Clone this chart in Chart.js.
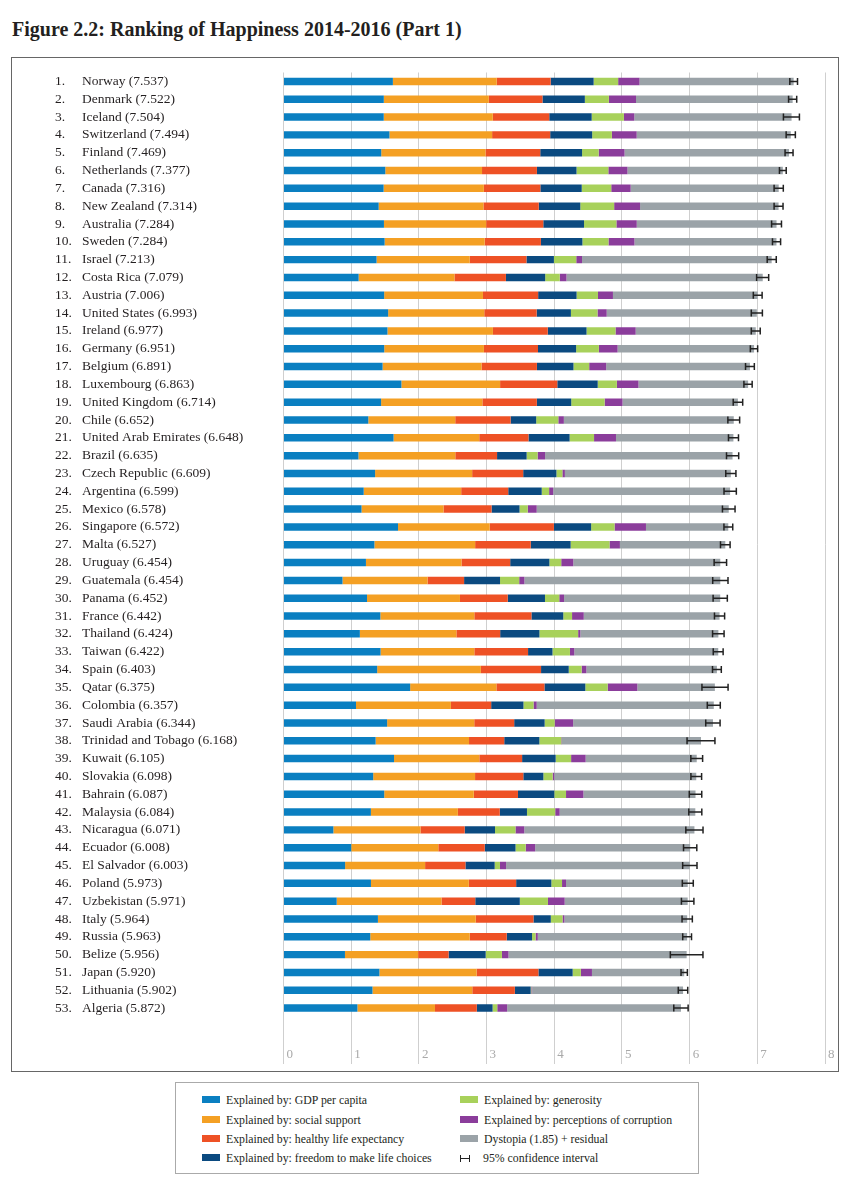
<!DOCTYPE html>
<html>
<head>
<meta charset="utf-8">
<title>Ranking of Happiness 2014-2016 (Part 1)</title>
<script src="https://cdn.jsdelivr.net/npm/chart.js@4.4.1/dist/chart.umd.min.js"></script>
<style>
  body { margin: 0; background: #fff; width: 850px; height: 1200px; position: relative;
         font-family: "Liberation Serif", "DejaVu Serif", serif; color: #231f20; }
  #title { position: absolute; left: 12px; top: 18px; margin: 0; font-size: 20px; font-weight: bold; white-space: nowrap; }
  #frame { position: absolute; left: 11px; top: 57px; width: 826px; height: 1013px; border: 1px solid #666; }
  #chartBox { position: absolute; left: 0; top: 0; width: 826px; height: 1013px; }
  #legend { position: absolute; left: 175px; top: 1082px; width: 522px; height: 90px; border: 1px solid #aaa; }
  .item { position: absolute; font-size: 11.8px; line-height: 14px; white-space: nowrap; }
  .sw { display: inline-block; width: 18px; height: 7px; margin-right: 6px; vertical-align: 1px; }
  .ci { display: inline-block; position: relative; width: 8px; height: 7px; margin: 0 13px 0 0; vertical-align: 0px;
        border-left: 1.5px solid #222; border-right: 1.5px solid #222; }
  .ci:after { content: ""; position: absolute; left: 0; right: 0; top: 3px; height: 1.5px; background: #222; }
</style>
</head>
<body>
<h1 id="title">Figure 2.2: Ranking of Happiness 2014-2016 (Part 1)</h1>
<div id="frame"><div id="chartBox"><canvas id="happyChart"></canvas></div></div>
<div id="legend"></div>

<script>
// ---- data ----
const countries = ["Norway", "Denmark", "Iceland", "Switzerland", "Finland", "Netherlands", "Canada",
   "New Zealand", "Australia", "Sweden", "Israel", "Costa Rica", "Austria", "United States", "Ireland",
   "Germany", "Belgium", "Luxembourg", "United Kingdom", "Chile", "United Arab Emirates", "Brazil",
   "Czech Republic", "Argentina", "Mexico", "Singapore", "Malta", "Uruguay", "Guatemala", "Panama",
   "France", "Thailand", "Taiwan", "Spain", "Qatar", "Colombia", "Saudi Arabia", "Trinidad and Tobago",
   "Kuwait", "Slovakia", "Bahrain", "Malaysia", "Nicaragua", "Ecuador", "El Salvador", "Poland",
   "Uzbekistan", "Italy", "Russia", "Belize", "Japan", "Lithuania", "Algeria"];

const scores = [7.537, 7.522, 7.504, 7.494, 7.469, 7.377, 7.316, 7.314, 7.284, 7.284, 7.213, 7.079, 7.006,
   6.993, 6.977, 6.951, 6.891, 6.863, 6.714, 6.652, 6.648, 6.635, 6.609, 6.599, 6.578, 6.572, 6.527,
   6.454, 6.454, 6.452, 6.442, 6.424, 6.422, 6.403, 6.375, 6.357, 6.344, 6.168, 6.105, 6.098, 6.087,
   6.084, 6.071, 6.008, 6.003, 5.973, 5.971, 5.964, 5.963, 5.956, 5.920, 5.902, 5.872];

const gdp = [1.616, 1.482, 1.481, 1.565, 1.444, 1.504, 1.479, 1.406, 1.484, 1.494, 1.375, 1.110, 1.487,
   1.546, 1.536, 1.488, 1.464, 1.742, 1.442, 1.253, 1.626, 1.107, 1.353, 1.185, 1.153, 1.692, 1.343,
   1.218, 0.872, 1.234, 1.431, 1.128, 1.434, 1.384, 1.871, 1.071, 1.531, 1.361, 1.633, 1.325, 1.488,
   1.291, 0.737, 1.001, 0.910, 1.292, 0.786, 1.395, 1.282, 0.908, 1.417, 1.315, 1.092];

const social = [1.534, 1.551, 1.611, 1.517, 1.540, 1.429, 1.481, 1.548, 1.510, 1.478, 1.376, 1.416, 1.460,
   1.420, 1.558, 1.473, 1.462, 1.458, 1.496, 1.284, 1.266, 1.431, 1.434, 1.440, 1.211, 1.354, 1.488,
   1.412, 1.256, 1.373, 1.388, 1.426, 1.385, 1.532, 1.274, 1.402, 1.287, 1.380, 1.260, 1.505, 1.323,
   1.285, 1.287, 1.286, 1.182, 1.446, 1.549, 1.445, 1.469, 1.081, 1.436, 1.474, 1.146];

const health = [0.797, 0.793, 0.834, 0.858, 0.809, 0.811, 0.835, 0.817, 0.844, 0.831, 0.838, 0.760, 0.815,
   0.774, 0.810, 0.799, 0.818, 0.845, 0.805, 0.819, 0.727, 0.617, 0.754, 0.695, 0.710, 0.949, 0.822,
   0.719, 0.540, 0.706, 0.844, 0.647, 0.794, 0.889, 0.710, 0.595, 0.590, 0.520, 0.632, 0.713, 0.653,
   0.619, 0.653, 0.686, 0.596, 0.699, 0.498, 0.853, 0.547, 0.450, 0.913, 0.629, 0.618];

const freedom = [0.635, 0.626, 0.627, 0.620, 0.618, 0.585, 0.611, 0.614, 0.602, 0.613, 0.406, 0.580, 0.568,
   0.506, 0.573, 0.563, 0.540, 0.597, 0.508, 0.377, 0.608, 0.437, 0.491, 0.495, 0.413, 0.550, 0.589,
   0.579, 0.531, 0.550, 0.470, 0.580, 0.361, 0.409, 0.604, 0.477, 0.450, 0.519, 0.496, 0.296, 0.537,
   0.402, 0.448, 0.455, 0.432, 0.520, 0.658, 0.256, 0.374, 0.548, 0.506, 0.234, 0.233];

const generosity = [0.362, 0.355, 0.476, 0.291, 0.245, 0.470, 0.436, 0.500, 0.478, 0.385, 0.330, 0.215, 0.316,
   0.393, 0.428, 0.336, 0.232, 0.283, 0.493, 0.327, 0.361, 0.162, 0.088, 0.109, 0.121, 0.346, 0.575,
   0.175, 0.283, 0.211, 0.130, 0.572, 0.258, 0.190, 0.330, 0.149, 0.148, 0.325, 0.228, 0.137, 0.173,
   0.417, 0.302, 0.150, 0.078, 0.158, 0.416, 0.173, 0.052, 0.240, 0.121, 0.010, 0.069];

const corruption = [0.316, 0.401, 0.154, 0.367, 0.383, 0.283, 0.287, 0.383, 0.301, 0.384, 0.085, 0.100, 0.221,
   0.136, 0.298, 0.277, 0.251, 0.319, 0.265, 0.082, 0.324, 0.111, 0.037, 0.060, 0.133, 0.464, 0.153,
   0.178, 0.077, 0.071, 0.173, 0.032, 0.064, 0.071, 0.439, 0.047, 0.273, 0.009, 0.215, 0.024, 0.257,
   0.066, 0.130, 0.140, 0.090, 0.059, 0.247, 0.028, 0.033, 0.097, 0.164, 0.012, 0.146];

const dystopia = [2.277, 2.314, 2.323, 2.277, 2.430, 2.295, 2.187, 2.046, 2.065, 2.098, 2.802, 2.899, 2.139,
   2.218, 1.774, 2.016, 2.124, 1.620, 1.704, 2.510, 1.735, 2.769, 2.452, 2.614, 2.837, 1.216, 1.557,
   2.172, 2.894, 2.307, 2.006, 2.040, 2.127, 1.928, 1.145, 2.616, 2.066, 2.054, 1.641, 2.098, 1.656,
   2.004, 2.514, 2.290, 2.715, 1.798, 1.817, 1.814, 2.206, 2.632, 1.363, 2.229, 2.568];

// 95% confidence interval
const ciLow = [7.480, 7.462, 7.386, 7.426, 7.410, 7.327, 7.248, 7.248, 7.211, 7.224, 7.146, 6.990, 6.941,
   6.911, 6.911, 6.897, 6.826, 6.802, 6.644, 6.565, 6.574, 6.545, 6.534, 6.508, 6.485, 6.507, 6.456,
   6.362, 6.341, 6.347, 6.367, 6.339, 6.349, 6.338, 6.182, 6.261, 6.238, 5.962, 6.018, 6.019, 5.995,
   5.988, 5.944, 5.910, 5.897, 5.892, 5.879, 5.888, 5.898, 5.715, 5.873, 5.832, 5.766];

const ciHigh = [7.594, 7.582, 7.622, 7.562, 7.528, 7.427, 7.384, 7.380, 7.357, 7.344, 7.280, 7.168, 7.071,
   7.075, 7.043, 7.005, 6.956, 6.924, 6.784, 6.739, 6.722, 6.725, 6.684, 6.690, 6.671, 6.637, 6.598,
   6.546, 6.567, 6.557, 6.517, 6.509, 6.495, 6.468, 6.568, 6.453, 6.450, 6.374, 6.192, 6.177, 6.179,
   6.180, 6.198, 6.106, 6.109, 6.054, 6.063, 6.040, 6.028, 6.197, 5.967, 5.972, 5.978];

const xTicks = [0, 1, 2, 3, 4, 5, 6, 7, 8];

const seriesNames = ["Explained by: GDP per capita", "Explained by: social support",
   "Explained by: healthy life expectancy", "Explained by: freedom to make life choices",
   "Explained by: generosity", "Explained by: perceptions of corruption", "Dystopia (1.85) + residual"];
const seriesColors = ["#0a7fc1", "#f4a024", "#ee5125", "#0b4a80", "#a8d15b", "#8b3d9b", "#9ba3a8"];
const seriesData = [gdp, social, health, freedom, generosity, corruption, dystopia];

// ---- labels ----
const names = countries.map(function (c, i) {
   return c + " (" + scores[i].toFixed(3) + ")";
});
const ranks = countries.map(function (c, i) {
   return (i + 1) + ".";
});

const labelFont = { family: "'Liberation Serif', serif", size: 13.5 };

// error bars for the confidence interval
const ciPlugin = {
   id: "ciBars",
   afterDatasetsDraw(chart) {
      const ctx = chart.ctx;
      const x = chart.scales.x;
      const y = chart.scales.y;
      ctx.save();
      ctx.strokeStyle = "#222";
      ctx.lineWidth = 1.5;
      for (let i = 0; i < countries.length; i++) {
         const py = y.getPixelForValue(i);
         const x1 = x.getPixelForValue(ciLow[i]);
         const x2 = x.getPixelForValue(ciHigh[i]);
         ctx.beginPath();
         ctx.moveTo(x1, py);
         ctx.lineTo(x2, py);
         ctx.moveTo(x1, py - 3.5);
         ctx.lineTo(x1, py + 3.5);
         ctx.moveTo(x2, py - 3.5);
         ctx.lineTo(x2, py + 3.5);
         ctx.stroke();
      }
      ctx.restore();
   },
};

const datasets = seriesData.map(function (d, k) {
   return {
      label: seriesNames[k],
      data: d,
      backgroundColor: seriesColors[k],
      borderWidth: 0,
      barPercentage: 0.42,
      categoryPercentage: 1,
   };
});

const happyctx = document.getElementById("happyChart").getContext("2d");
const happyChart = new Chart(happyctx, {
   type: "bar",
   data: { labels: names, datasets: datasets },
   plugins: [ciPlugin],
   options: {
      indexAxis: "y",
      responsive: true,
      maintainAspectRatio: false,
      animation: false,
      layout: { padding: { top: 14.5, right: 13, bottom: 0, left: 43 } },
      plugins: { legend: { display: false }, tooltip: { enabled: false } },
      scales: {
         x: {
            stacked: true,
            min: 0,
            max: 8,
            afterBuildTicks: function (scale) {
               scale.ticks = xTicks.map(function (v) { return { value: v }; });
            },
            afterFit: function (scale) { scale.height = 54; },
            grid: { color: "#cfcfcf", lineWidth: 1, drawTicks: true, tickLength: 47 },
            border: { display: false },
            ticks: {
               align: "start",
               labelOffset: 3,
               padding: -17,
               color: "#a9a9a9",
               font: { family: "'Liberation Serif', serif", size: 13 },
            },
         },
         y: {
            stacked: true,
            grid: { display: false, drawTicks: false },
            border: { display: false },
            afterFit: function (scale) { scale.width = 201.5; },
            ticks: { crossAlign: "far", padding: 0, color: "#231f20", font: labelFont, autoSkip: false },
         },
         y2: {
            type: "category",
            labels: ranks,
            position: "left",
            offset: true,
            weight: 1,
            grid: { display: false, drawTicks: false },
            border: { display: false },
            afterFit: function (scale) { scale.width = 27; },
            ticks: { crossAlign: "far", padding: 0, color: "#231f20", font: labelFont, autoSkip: false },
         },
      },
   },
});

// ---- legend (two columns, as in the figure) ----
const legend = document.getElementById("legend");
const legendRows = [17, 36.5, 55.5, 74.5];
const legendItems = seriesNames.concat(["95% confidence interval"]);
legendItems.forEach(function (name, k) {
   const el = document.createElement("div");
   el.className = "item";
   const col = k < 4 ? 0 : 1;
   el.style.left = (col === 0 ? 26 : 284) + "px";
   el.style.top = (legendRows[k % 4] - 7) + "px";
   if (k < seriesColors.length) {
      el.innerHTML = '<span class="sw" style="background:' + seriesColors[k] + '"></span>' + name;
   } else {
      el.innerHTML = '<span class="ci"></span>' + name;
   }
   legend.appendChild(el);
});
</script>
</body>
</html>
